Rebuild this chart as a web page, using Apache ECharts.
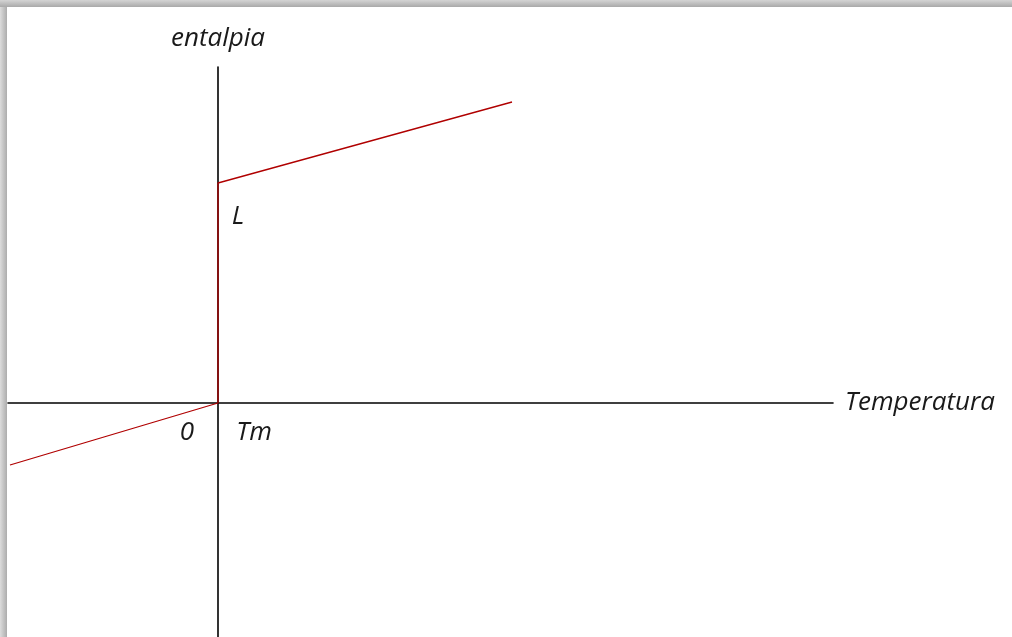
<!DOCTYPE html>
<html>
<head>
<meta charset="utf-8">
<script src="https://cdn.jsdelivr.net/npm/echarts@6/dist/echarts.min.js"></script>
<style>
  html, body { margin: 0; padding: 0; width: 1012px; height: 637px; overflow: hidden; background: #fff; }
  #frameTop { position: absolute; left: 0; top: 0; width: 1012px; height: 7px;
    background: linear-gradient(to bottom, #d4d4d4, #a9a9a9); }
  #frameLeft { position: absolute; left: 0; top: 0; width: 7px; height: 637px;
    background: linear-gradient(to right, #dcdcdc, #acacac); }
  #chart { position: absolute; left: 0; top: 0; width: 1012px; height: 637px; }
</style>
</head>
<body>
<div id="chart"></div>
<div id="frameLeft"></div>
<div id="frameTop"></div>
<script>
// Enthalpy vs temperature across a phase change at Tm (arbitrary units)
const temperature = [-20.8, 0, 0, 29.4];
const enthalpy    = [-6.2, 0, 22.0, 30.1];

// Text annotations: label and its [temperature, enthalpy] anchor
const noteText  = ['L', '0', 'Tm'];
const noteX     = [2.0, -3.1, 3.6];
const noteY     = [18.6, -3.0, -3.0];

const xName = 'Temperatura';
const yName = 'entalpia';

const font = { fontFamily: 'Open Sans', fontStyle: 'italic', fontSize: 26, color: '#1a1a1a' };

const chart = echarts.init(document.getElementById('chart'), null, { renderer: 'canvas' });
chart.setOption({
  animation: false,
  backgroundColor: 'transparent',
  grid: { left: 8, right: 179, top: 67, bottom: 0, containLabel: false },
  xAxis: {
    type: 'value', min: -21, max: 61.5,
    name: xName, nameLocation: 'end', nameGap: 12,
    nameTextStyle: Object.assign({}, font, { verticalAlign: 'middle' }),
    axisLine: { onZero: true, lineStyle: { color: '#000', width: 1.6 } },
    axisTick: { show: false }, axisLabel: { show: false }, splitLine: { show: false }
  },
  yAxis: {
    type: 'value', min: -23.4, max: 33.6,
    name: yName, nameLocation: 'end', nameGap: 15,
    nameTextStyle: Object.assign({}, font, { align: 'center' }),
    axisLine: { onZero: true, lineStyle: { color: '#000', width: 1.6 } },
    axisTick: { show: false }, axisLabel: { show: false }, splitLine: { show: false }
  },
  series: [
    {
      type: 'line',
      data: temperature.map((t, i) => [t, enthalpy[i]]),
      showSymbol: false,
      lineStyle: { color: '#b00000', width: 1.3 },
      z: 3
    },
    {
      type: 'scatter',
      data: noteText.map((s, i) => ({ value: [noteX[i], noteY[i]], name: s })),
      symbolSize: 0,
      label: Object.assign({
        show: true, position: 'inside', formatter: p => p.name,
        textBorderWidth: 0, opacity: 1
      }, font),
      silent: true
    }
  ]
});
</script>
</body>
</html>
